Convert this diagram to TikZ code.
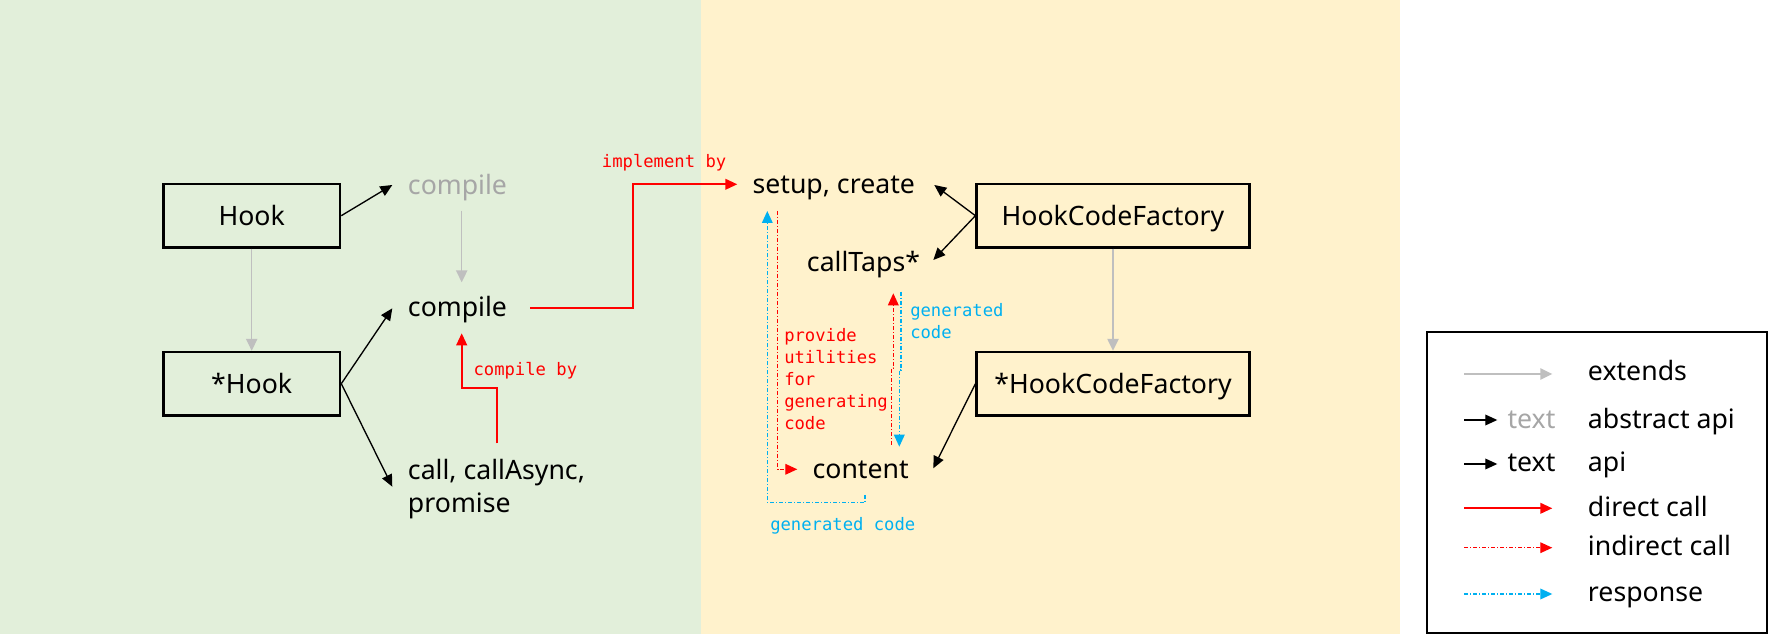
\documentclass[tikz,border=0pt]{standalone}
\usepackage{fontspec}
\setmainfont{Noto Sans}
\newfontfamily\monof{DejaVu Sans Mono}
\usetikzlibrary{arrows.meta}
\definecolor{bggreen}{HTML}{E2EFDA}
\definecolor{bgyellow}{HTML}{FFF2CC}
\definecolor{lgray}{HTML}{BFBFBF}
\definecolor{tgray}{HTML}{A6A6A6}
\definecolor{cred}{HTML}{FF0000}
\definecolor{cblue}{HTML}{00B0F0}
\begin{document}
\begin{tikzpicture}[x=0.75pt,y=-0.75pt,
  tip/.style={-{Triangle[length=9pt,width=8pt]}},
  box/.style={draw=black, line width=1.9pt, minimum width=132.5pt, minimum height=47.5pt, inner sep=0pt, text height=14.3pt, text depth=0pt, font=\fontsize{20}{24}\selectfont},
  widebox/.style={box, minimum width=204.5pt},
  lbl/.style={anchor=base west, inner sep=0pt, font=\fontsize{20}{24.75}\selectfont, align=left},
  code/.style={anchor=base west, inner sep=0pt, font=\monof\fontsize{12.9}{16.6}\selectfont, align=left},
  api/.style={tip, line width=1pt, black},
  ext/.style={-{Triangle[length=9pt,width=8.5pt]}, line width=1.1pt, lgray},
  dcall/.style={tip, line width=1.4pt, cred},
  icall/.style={tip, line width=1pt, cred, dash pattern=on 3pt off 1.5pt on 0.75pt off 1.5pt},
  resp/.style={tip, line width=1pt, cblue, dash pattern=on 3pt off 1.5pt on 0.75pt off 1.5pt},
]
\useasboundingbox (0,0) rectangle (1768,634);
\fill[bggreen] (0,0) rectangle (701,634);
\fill[bgyellow] (701,0) rectangle (1400,634);

% boxes
\node[box] (hook) at (251.7,215.7) {Hook};
\node[box] (shook) at (251.7,383.7) {*Hook};
\node[widebox] (hcf) at (1113,215.7) {HookCodeFactory};
\node[widebox] (shcf) at (1113,383.7) {*HookCodeFactory};

% labels (multi-line nodes: base = baseline of last line)
\node[lbl, text=tgray] (gcompile) at (407.7,194.3) {compile};
\node[lbl] (compile) at (407.7,316.7) {compile};
\node[lbl] (call) at (407.7,512.5) {call, callAsync,\\promise};
\node[lbl] (setup) at (752.3,193.3) {setup, create};
\node[lbl] (calltaps) at (806.7,271.7) {callTaps*};
\node[lbl] (content) at (812.3,478.3) {content};

\node[code, text=cred] (impl) at (601.7,167.3) {implement by};
\node[code, text=cred] (cby) at (473.3,376) {compile by};
\node[code, text=cred] (util) at (784,430) {provide\\utilities\\for\\generating\\code};
\node[code, text=cblue] (gen1) at (910,338.3) {generated\\code};
\node[code, text=cblue] (gen2) at (770,531) {generated code};

% coordinates
\coordinate (tgc) at (392.3,185);
\coordinate (tc) at (392.3,308.3);
\coordinate (tcall) at (392.3,486.7);
\coordinate (gcs) at (461.7,210.7);
\coordinate (gce) at (461.7,282.3);
\coordinate (cs) at (530,308.3);
\coordinate (ce) at (737.3,184.3);
\coordinate (cbs) at (497.3,443.3);
\coordinate (cbe) at (461.7,333.3);
\coordinate (tsetup) at (934.3,185);
\coordinate (ttaps) at (933.3,260);
\coordinate (tcontent) at (933.3,468.3);

% connectors
\draw[api] (hook.east) -- (tgc);
\draw[ext] (hook.south) -- (shook.north);
\draw[api] (shook.east) -- (tc);
\draw[api] (shook.east) -- (tcall);
\draw[ext] (gcs) -- (gce);
\draw[dcall] (cs) -| (633.3,184.3) -- (ce);
\draw[dcall] (cbs) |- (461.7,388.3) -- (cbe);
\draw[api] (hcf.west) -- (tsetup);
\draw[api] (hcf.west) -- (ttaps);
\draw[ext] (hcf.south) -- (shcf.north);
\draw[api] (shcf.west) -- (tcontent);

\draw[resp] (865,495) -- (865,502.7) -| (767.3,211);
\draw[icall] (777.7,211) |- (797.3,469.3);
\draw[icall] (891.7,445) -- (891.7,368) -- (893.3,368) -- (893.3,293.3);
\draw[resp] (901,291.7) -- (901,370) -- (899.3,370) -- (899.3,446.7);

% legend
\node[draw=black, line width=1.9pt, minimum width=255pt, minimum height=225.75pt, inner sep=0pt] (legend) at (1597,482.5) {};
\draw[ext] (1464.3,374) -- (1552.3,374);
\draw[api] (1464.3,420) -- (1497.3,420);
\draw[api] (1464.3,464) -- (1497.3,464);
\draw[dcall] (1464.3,508.3) -- (1552.3,508.3);
\draw[icall] (1464.3,547.7) -- (1552.3,547.7);
\draw[resp] (1464.3,594) -- (1552.3,594);
\node[lbl, text=tgray] (ltext1) at (1507.3,428.3) {text};
\node[lbl] (ltext2) at (1507.3,471.7) {text};
\node[lbl] (l1) at (1587.7,380.7) {extends};
\node[lbl] (l2) at (1587.7,428.3) {abstract api};
\node[lbl] (l3) at (1587.7,471.7) {api};
\node[lbl] (l4) at (1587.7,516.7) {direct call};
\node[lbl] (l5) at (1587.7,556) {indirect call};
\node[lbl] (l6) at (1587.7,601.7) {response};
\end{tikzpicture}
\end{document}
